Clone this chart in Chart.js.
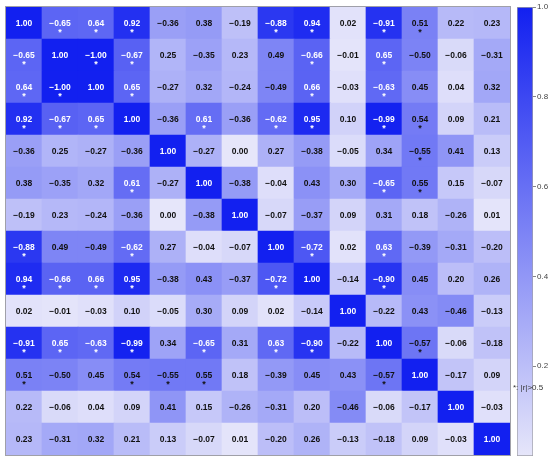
<!DOCTYPE html>
<html lang="en">
<head>
    <meta charset="UTF-8">
    <title>Correlation heatmap</title>
    <style>
        body { margin: 0; background: #fff; }
        #wrap { position: relative; width: 550px; height: 463px; }
        #heat { position: absolute; left: 0; top: 0; }
        #bar { position: absolute; left: 510px; top: 0; }
    </style>
</head>
<body>
<div id="wrap">
    <canvas id="heat" width="550" height="463"></canvas>
    <canvas id="bar" width="40" height="463"></canvas>
</div>

<script src="https://cdn.jsdelivr.net/npm/chart.js"></script>

<script>
    // variables (no names shown on the picture)
    const labels = ['V1', 'V2', 'V3', 'V4', 'V5', 'V6', 'V7', 'V8', 'V9', 'V10', 'V11', 'V12', 'V13', 'V14'];

    // correlation rows, top to bottom
    const row1  = [ 1.00, -0.65,  0.64,  0.92, -0.36,  0.38, -0.19, -0.88,  0.94,  0.02, -0.91,  0.51,  0.22,  0.23];
    const row2  = [-0.65,  1.00, -1.00, -0.67,  0.25, -0.35,  0.23,  0.49, -0.66, -0.01,  0.65, -0.50, -0.06, -0.31];
    const row3  = [ 0.64, -1.00,  1.00,  0.65, -0.27,  0.32, -0.24, -0.49,  0.66, -0.03, -0.63,  0.45,  0.04,  0.32];
    const row4  = [ 0.92, -0.67,  0.65,  1.00, -0.36,  0.61, -0.36, -0.62,  0.95,  0.10, -0.99,  0.54,  0.09,  0.21];
    const row5  = [-0.36,  0.25, -0.27, -0.36,  1.00, -0.27,  0.00,  0.27, -0.38, -0.05,  0.34, -0.55,  0.41,  0.13];
    const row6  = [ 0.38, -0.35,  0.32,  0.61, -0.27,  1.00, -0.38, -0.04,  0.43,  0.30, -0.65,  0.55,  0.15, -0.07];
    const row7  = [-0.19,  0.23, -0.24, -0.36,  0.00, -0.38,  1.00, -0.07, -0.37,  0.09,  0.31,  0.18, -0.26,  0.01];
    const row8  = [-0.88,  0.49, -0.49, -0.62,  0.27, -0.04, -0.07,  1.00, -0.72,  0.02,  0.63, -0.39, -0.31, -0.20];
    const row9  = [ 0.94, -0.66,  0.66,  0.95, -0.38,  0.43, -0.37, -0.72,  1.00, -0.14, -0.90,  0.45,  0.20,  0.26];
    const row10 = [ 0.02, -0.01, -0.03,  0.10, -0.05,  0.30,  0.09,  0.02, -0.14,  1.00, -0.22,  0.43, -0.46, -0.13];
    const row11 = [-0.91,  0.65, -0.63, -0.99,  0.34, -0.65,  0.31,  0.63, -0.90, -0.22,  1.00, -0.57, -0.06, -0.18];
    const row12 = [ 0.51, -0.50,  0.45,  0.54, -0.55,  0.55,  0.18, -0.39,  0.45,  0.43, -0.57,  1.00, -0.17,  0.09];
    const row13 = [ 0.22, -0.06,  0.04,  0.09,  0.41,  0.15, -0.26, -0.31,  0.20, -0.46, -0.06, -0.17,  1.00, -0.03];
    const row14 = [ 0.23, -0.31,  0.32,  0.21,  0.13, -0.07,  0.01, -0.20,  0.26, -0.13, -0.18,  0.09, -0.03,  1.00];

    const rows = [row1, row2, row3, row4, row5, row6, row7, row8, row9, row10, row11, row12, row13, row14];

    // colour bar ticks
    const barTicks = [0.2, 0.4, 0.6, 0.8, 1.0];

    const lowColor = [230, 230, 250];
    const highColor = [18, 32, 240];

    function colorFor(v) {
        const t = Math.min(1, Math.abs(v));
        const c = lowColor.map((lo, i) => Math.round(lo + (highColor[i] - lo) * t));
        return 'rgb(' + c.join(',') + ')';
    }

    function fmt(v) {
        const s = Math.abs(v).toFixed(2);
        return v < 0 ? '\u2212' + s : s;
    }

    // one stacked dataset per row; the bottom row goes first
    const datasets = rows.map(function (r, ri) {
        return {
            data: labels.map(() => 1),
            values: r,
            rowIndex: ri,
            backgroundColor: r.map(colorFor),
            borderWidth: 0,
            barPercentage: 1,
            categoryPercentage: 1
        };
    }).reverse();

    const cellText = {
        id: 'cellText',
        afterDatasetsDraw(chart) {
            const ctx = chart.ctx;
            ctx.save();
            ctx.textAlign = 'center';
            ctx.textBaseline = 'middle';
            chart.data.datasets.forEach(function (ds, di) {
                const meta = chart.getDatasetMeta(di);
                meta.data.forEach(function (bar, i) {
                    const v = ds.values[i];
                    const cy = (bar.y + bar.base) / 2;
                    const col = Math.abs(v) >= 0.6 ? '#ffffff' : '#111111';
                    ctx.fillStyle = col;
                    ctx.font = 'bold 8.5px "Liberation Sans", Arial, sans-serif';
                    ctx.fillText(fmt(v), bar.x, cy + 1);
                    if (Math.abs(v) > 0.5 && i !== ds.rowIndex) {
                        ctx.font = 'bold 9px "Liberation Sans", Arial, sans-serif';
                        ctx.fillText('*', bar.x, cy + 10);
                    }
                });
            });
            const a = chart.chartArea;
            ctx.strokeStyle = '#a0a0a8';
            ctx.lineWidth = 1;
            ctx.strokeRect(a.left - 0.5, a.top - 0.5, a.right - a.left + 1, a.bottom - a.top + 1);
            ctx.restore();
        }
    };

    new Chart(document.getElementById('heat'), {
        type: 'bar',
        data: {
            labels: labels,
            datasets: datasets
        },
        options: {
            responsive: false,
            animation: false,
            layout: { padding: { left: 6, right: 40, top: 7, bottom: 8 } },
            plugins: { legend: { display: false }, tooltip: { enabled: false } },
            scales: {
                x: { stacked: true, display: false },
                y: { stacked: true, display: false, min: 0, max: rows.length }
            }
        },
        plugins: [cellText]
    });

    const barNote = {
        id: 'barNote',
        afterDraw(chart) {
            const ctx = chart.ctx;
            ctx.save();
            ctx.fillStyle = '#333';
            ctx.font = '8px "Liberation Sans", Arial, sans-serif';
            ctx.textAlign = 'left';
            ctx.textBaseline = 'middle';
            ctx.fillText('*: |r|>0.5', 3, 388);
            ctx.restore();
        }
    };

    new Chart(document.getElementById('bar'), {
        type: 'bar',
        data: {
            labels: ['|r|'],
            datasets: [{
                data: [1],
                backgroundColor: function (c) {
                    const a = c.chart.chartArea;
                    if (!a) return colorFor(0.5);
                    const g = c.chart.ctx.createLinearGradient(0, a.bottom, 0, a.top);
                    g.addColorStop(0, colorFor(0));
                    g.addColorStop(1, colorFor(1));
                    return g;
                },
                borderColor: '#a0a0a8',
                borderWidth: 1,
                borderSkipped: false,
                barPercentage: 1,
                categoryPercentage: 1
            }]
        },
        options: {
            responsive: false,
            animation: false,
            layout: { padding: { left: 7, right: 0, top: 7, bottom: 7 } },
            plugins: { legend: { display: false }, tooltip: { enabled: false } },
            scales: {
                x: { display: false },
                y: {
                    position: 'right',
                    min: 0,
                    max: 1,
                    afterFit: function (s) { s.width = 17; },
                    afterBuildTicks: function (s) { s.ticks = barTicks.map(v => ({ value: v })); },
                    border: { display: false },
                    grid: { drawOnChartArea: false, tickLength: 3, color: '#888' },
                    ticks: {
                        padding: 1,
                        color: '#444',
                        font: { size: 8, family: '"Liberation Sans", Arial, sans-serif' },
                        callback: v => v.toFixed(1)
                    }
                }
            }
        },
        plugins: [barNote]
    });
</script>

</body>
</html>
